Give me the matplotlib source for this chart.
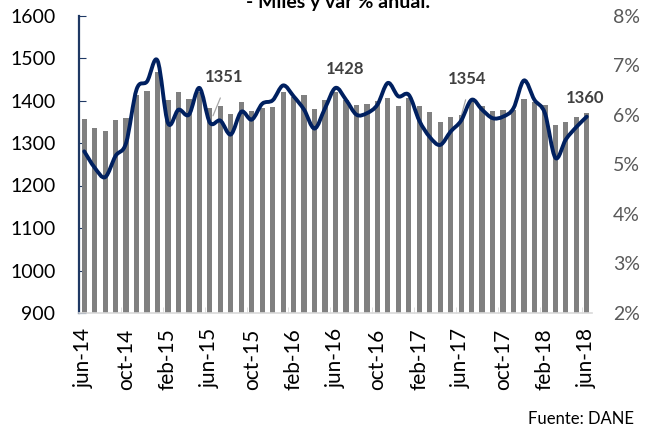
import numpy as np
import matplotlib
matplotlib.use('Agg')
import matplotlib.pyplot as plt
from matplotlib.path import Path
from matplotlib.patches import PathPatch

plt.rcParams['font.family'] = ['Lato', 'DejaVu Sans']

# Meses jun-14 .. jun-18
meses = ['jun-14', 'jul-14', 'ago-14', 'sep-14', 'oct-14', 'nov-14', 'dic-14',
         'ene-15', 'feb-15', 'mar-15', 'abr-15', 'may-15', 'jun-15', 'jul-15',
         'ago-15', 'sep-15', 'oct-15', 'nov-15', 'dic-15', 'ene-16', 'feb-16',
         'mar-16', 'abr-16', 'may-16', 'jun-16', 'jul-16', 'ago-16', 'sep-16',
         'oct-16', 'nov-16', 'dic-16', 'ene-17', 'feb-17', 'mar-17', 'abr-17',
         'may-17', 'jun-17', 'jul-17', 'ago-17', 'sep-17', 'oct-17', 'nov-17',
         'dic-17', 'ene-18', 'feb-18', 'mar-18', 'abr-18', 'may-18', 'jun-18']

# Ocupados (miles) - eje izquierdo
ocupados = [1356, 1336, 1328, 1354, 1358, 1413, 1423, 1466, 1401, 1419,
            1403, 1421, 1383, 1386, 1368, 1397, 1375, 1383, 1385, 1420,
            1409, 1413, 1379, 1401, 1420, 1401, 1390, 1392, 1400, 1405,
            1387, 1405, 1386, 1374, 1350, 1362, 1366, 1401, 1386, 1376,
            1378, 1378, 1404, 1397, 1390, 1342, 1350, 1362, 1370]

# Variacion % anual - eje derecho
var_anual = [5.26, 4.93, 4.74, 5.17, 5.43, 6.51, 6.67, 7.09, 5.83, 6.10,
             6.00, 6.54, 5.84, 5.88, 5.60, 6.06, 5.90, 6.22, 6.29, 6.59,
             6.37, 6.10, 5.72, 6.13, 6.54, 6.30, 6.00, 6.03, 6.20, 6.64,
             6.37, 6.40, 5.88, 5.55, 5.39, 5.66, 5.88, 6.30, 6.10, 5.93,
             5.96, 6.13, 6.69, 6.30, 6.03, 5.13, 5.50, 5.75, 5.96]

# etiquetas de junio
etiquetas = ['1351', '1428', '1354', '1360']
etiq_pos = [(13.4, 1455), (24.9, 1474), (36.6, 1450), (47.8, 1405)]
lideres = [((13.1, 1412), (12.2, 1358)), None, ((36.5, 1408), (35.9, 1354)), None]

x = np.arange(len(meses))

fig = plt.figure(figsize=(6.45, 4.34), dpi=100)
ax = fig.add_axes([79 / 645, 1 - 313 / 434, (592 - 79) / 645, (313 - 15.5) / 434])

ax.bar(x, ocupados, width=0.5, color='#808080', zorder=2)
ax.set_ylim(900, 1600)
ax.set_yticks(np.arange(900, 1601, 100))
ax.set_xlim(-0.5, len(meses) - 0.5)
ax.set_xticks(x[::4])
ax.set_xticklabels(meses[::4], rotation=90)
ax.set_xticks(np.arange(3.5, len(meses), 4), minor=True)

ax.tick_params(axis='y', direction='in', length=5, color='#1f3864', pad=17,
               labelsize=14, labelcolor='black')
ax.tick_params(axis='x', which='major', length=0, pad=11, labelsize=15)
ax.tick_params(axis='x', which='minor', direction='in', length=4, color='#d9d9d9')
for s in ['top', 'right']:
    ax.spines[s].set_visible(False)
ax.spines['left'].set_color('#1f3864')
ax.spines['left'].set_linewidth(1.6)
ax.spines['bottom'].set_color('#d9d9d9')
ax.spines['bottom'].set_linewidth(1.2)

for txt, pos, lid in zip(etiquetas, etiq_pos, lideres):
    ax.text(pos[0], pos[1], txt, ha='center', va='center', fontsize=12,
            fontweight='bold', color='#404040', zorder=5)
    if lid is not None:
        ax.annotate('', xy=lid[1], xytext=lid[0],
                    arrowprops=dict(arrowstyle='-', color='#a6a6a6', lw=0.9))

ax2 = ax.twinx()
ax2.set_ylim(2, 8)
ax2.set_yticks(np.arange(2, 9, 1))
ax2.set_yticklabels([f'{v}%' for v in range(2, 9)])
ax2.tick_params(axis='y', length=0, pad=15, labelsize=14, labelcolor='#595959')
for s in ax2.spines.values():
    s.set_visible(False)

# linea suavizada (bezier tipo Excel)
pts = np.column_stack([x, var_anual]).astype(float)
verts = [tuple(pts[0])]
codes = [Path.MOVETO]
n = len(pts)
for i in range(n - 1):
    p0 = pts[max(i - 1, 0)]
    p1 = pts[i]
    p2 = pts[i + 1]
    p3 = pts[min(i + 2, n - 1)]
    c1 = p1 + (p2 - p0) / 6
    c2 = p2 - (p3 - p1) / 6
    verts += [tuple(c1), tuple(c2), tuple(p2)]
    codes += [Path.CURVE4] * 3
ax2.add_patch(PathPatch(Path(verts, codes), facecolor='none', edgecolor='#002060',
                        lw=2.8, capstyle='round', joinstyle='round', zorder=3))

fig.text(338 / 645, 1 - 8 / 434, '- Miles y var % anual.', ha='center', va='baseline',
         fontsize=14, fontweight='bold', color='black')
fig.text(634 / 645, 1 - 424 / 434, 'Fuente: DANE', ha='right', va='baseline',
         fontsize=12, color='black')

fig.savefig('out.png', dpi=100)
